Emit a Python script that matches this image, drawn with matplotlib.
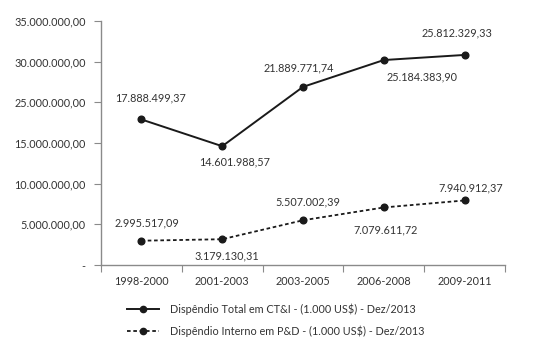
import matplotlib
matplotlib.use("Agg")
import matplotlib.pyplot as plt

plt.rcParams['font.family'] = ['Lato', 'DejaVu Sans']

# dados
periodos = ["1998-2000", "2001-2003", "2003-2005", "2006-2008", "2009-2011"]
total_cti = [17888499.37, 14601988.57, 21889771.74, 25184383.90, 25812329.33]
interno_pd = [2995517.09, 3179130.31, 5507002.39, 7079611.72, 7940912.37]

y_ticks = [0, 5e6, 10e6, 15e6, 20e6, 25e6, 30e6]
# rótulos como aparecem no original
y_tick_labels = ["-", "5.000.000,00", "10.000.000,00", "15.000.000,00",
                 "25.000.000,00", "30.000.000,00", "35.000.000,00"]

nome_total = "Dispêndio Total em CT&I - (1.000 US$) - Dez/2013"
nome_interno = "Dispêndio Interno em P&D - (1.000 US$) - Dez/2013"

# deslocamento dos rótulos (pixels)
off_total = [(9, 22), (12, -16), (-4, 19), (38, -17), (-8, 22)]
off_interno = [(6, 18), (5, -17), (5, 18), (2, -22), (6, 13)]

def fmt_br(v):
    s = f"{v:,.2f}"
    return s.replace(",", "X").replace(".", ",").replace("X", ".")

txt_color = "#333333"
axis_color = "#8a8a8a"
fs = 7.8

fig = plt.figure(figsize=(5.55, 3.53), dpi=100)
ax = fig.add_axes([0.182, 0.249, 0.728, 0.692])

x = range(len(periodos))
ax.plot(x, total_cti, color="#1a1a1a", lw=1.4, marker="o", ms=4.8,
        label=nome_total)
ax.plot(x, interno_pd, color="#1a1a1a", lw=1.3, ls=(0, (2, 1.5)),
        marker="o", ms=4.8, label=nome_interno)

for i, v in enumerate(total_cti):
    ax.annotate(fmt_br(v), (i, v), xytext=off_total[i], textcoords="offset pixels",
                ha="center", va="center", fontsize=fs, color=txt_color)
for i, v in enumerate(interno_pd):
    ax.annotate(fmt_br(v), (i, v), xytext=off_interno[i], textcoords="offset pixels",
                ha="center", va="center", fontsize=fs, color=txt_color)

ax.set_xlim(-0.5, len(periodos) - 0.5)
ax.set_ylim(0, 30e6)
ax.set_yticks(y_ticks)
ax.set_yticklabels(y_tick_labels)
ax.set_xticks([i + 0.5 for i in range(-1, len(periodos))])
ax.set_xticklabels([])
ax.set_xticks(list(x), minor=True)
ax.set_xticklabels(periodos, minor=True)
ax.tick_params(axis="x", which="minor", length=0, pad=8)
ax.tick_params(axis="x", which="major", length=5, color=axis_color)
ax.tick_params(axis="y", length=5, color=axis_color, pad=6)
ax.tick_params(which="both", labelsize=fs, labelcolor=txt_color)

for s in ["top", "right"]:
    ax.spines[s].set_visible(False)
for s in ["left", "bottom"]:
    ax.spines[s].set_color(axis_color)
    ax.spines[s].set_linewidth(1.0)

leg = fig.legend(loc="upper left", bbox_to_anchor=(0.228, 0.14), frameon=False,
                 fontsize=fs, handlelength=3.0, handletextpad=1.0,
                 labelspacing=0.95, borderaxespad=0, borderpad=0)
for t in leg.get_texts():
    t.set_color(txt_color)
for h in leg.legend_handles:
    h.set_markersize(4.5)

fig.savefig("out.png", dpi=100)
